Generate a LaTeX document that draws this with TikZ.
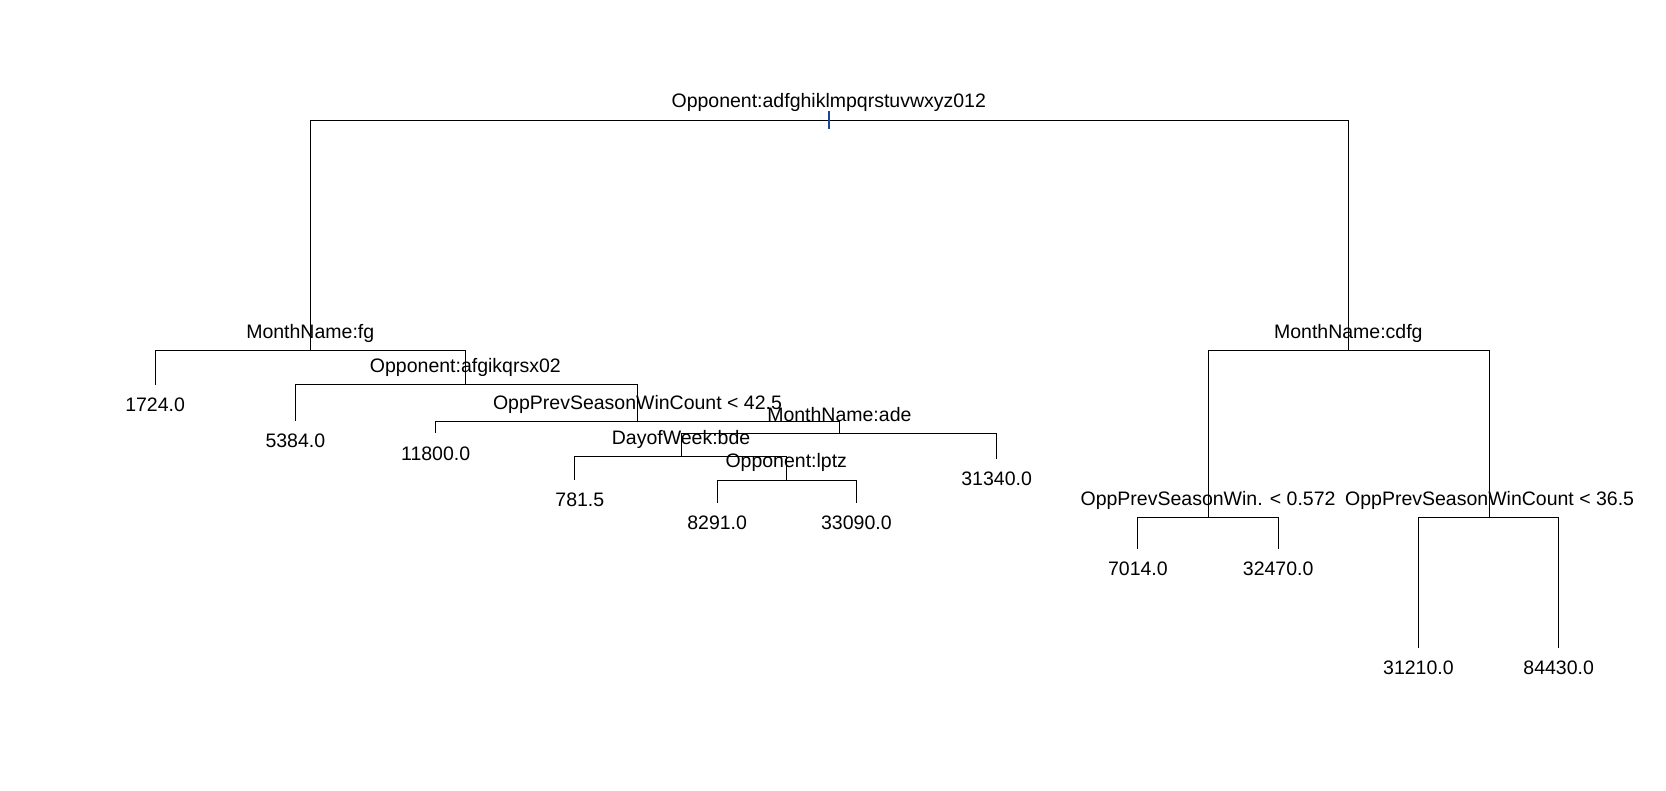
\documentclass[tikz,border=0pt]{standalone}
\usepackage{fontspec}
\setmainfont{Liberation Sans}
\definecolor{tickblue}{RGB}{30,70,150}
\begin{document}
\begin{tikzpicture}[x=0.53125pt,y=-0.53125pt,
  edge/.style={draw=black,line width=0.5pt},
  split/.style={anchor=base,inner sep=0pt,font=\fontsize{9.75pt}{11pt}\selectfont},
  leaf/.style={anchor=base,inner sep=0pt,font=\fontsize{9.75pt}{11pt}\selectfont}]
\useasboundingbox[fill=white] (0,0) rectangle (1568,744);
% internal nodes (bar positions)
\coordinate (n1) at (780,113);
\coordinate (n2) at (292,330);
\coordinate (n3) at (438,362);
\coordinate (n4) at (600,397);
\coordinate (n5) at (790,408);
\coordinate (n6) at (641,430);
\coordinate (n7) at (740,452);
\coordinate (n8) at (1269,330);
\coordinate (n9) at (1137,487);
\coordinate (n10) at (1402,487);
% leaves (line ends)
\coordinate (l1) at (146,362);
\coordinate (l2) at (278,396);
\coordinate (l3) at (410,408);
\coordinate (l4) at (938,432);
\coordinate (l5) at (541,452);
\coordinate (l6) at (675,473);
\coordinate (l7) at (806,473);
\coordinate (l8) at (1071,517);
\coordinate (l9) at (1203,517);
\coordinate (l10) at (1335,610);
\coordinate (l11) at (1467,610);
% connectors
\draw[edge] (n1) -| (n2); \draw[edge] (n1) -| (n8);
\draw[edge] (n2) -| (l1); \draw[edge] (n2) -| (n3);
\draw[edge] (n3) -| (l2); \draw[edge] (n3) -| (n4);
\draw[edge] (n4) -| (l3); \draw[edge] (n4) -| (n5);
\draw[edge] (n5) -| (n6); \draw[edge] (n5) -| (l4);
\draw[edge] (n6) -| (l5); \draw[edge] (n6) -| (n7);
\draw[edge] (n7) -| (l6); \draw[edge] (n7) -| (l7);
\draw[edge] (n8) -| (n9); \draw[edge] (n8) -| (n10);
\draw[edge] (n9) -| (l8); \draw[edge] (n9) -| (l9);
\draw[edge] (n10) -| (l10); \draw[edge] (n10) -| (l11);
% root tick
\coordinate (tk1) at (780,104.6);
\coordinate (tk2) at (780,121.6);
\draw[draw=tickblue,line width=0.75pt] (tk1) -- (tk2);
% split labels
\node[split] (t1) at ([yshift=11.6*0.53125pt]n1) {Opponent:adfghiklmpqrstuvwxyz012};
\node[split] (t2) at ([yshift=11.6*0.53125pt]n2) {MonthName:fg};
\node[split] (t3) at ([yshift=11.6*0.53125pt]n3) {Opponent:afgikqrsx02};
\node[split] (t4) at ([yshift=11.6*0.53125pt]n4) {OppPrevSeasonWinCount < 42.5};
\node[split] (t5) at ([yshift=11.6*0.53125pt]n5) {MonthName:ade};
\node[split] (t6) at ([yshift=11.6*0.53125pt]n6) {DayofWeek:bde};
\node[split] (t7) at ([yshift=11.6*0.53125pt]n7) {Opponent:lptz};
\node[split] (t8) at ([yshift=11.6*0.53125pt]n8) {MonthName:cdfg};
\node[split] (t9) at ([yshift=11.6*0.53125pt]n9) {OppPrevSeasonWin. < 0.572};
\node[split] (t10) at ([yshift=11.6*0.53125pt]n10) {OppPrevSeasonWinCount < 36.5};
% leaf labels
\node[leaf] (v1) at ([yshift=-25*0.53125pt]l1) {1724.0};
\node[leaf] (v2) at ([yshift=-25*0.53125pt]l2) {5384.0};
\node[leaf] (v3) at ([yshift=-25*0.53125pt]l3) {11800.0};
\node[leaf] (v4) at ([yshift=-25*0.53125pt]l4) {31340.0};
\node[leaf] (v5) at ([yshift=-25*0.53125pt,xshift=2.5pt]l5) {781.5};
\node[leaf] (v6) at ([yshift=-25*0.53125pt]l6) {8291.0};
\node[leaf] (v7) at ([yshift=-25*0.53125pt]l7) {33090.0};
\node[leaf] (v8) at ([yshift=-25*0.53125pt]l8) {7014.0};
\node[leaf] (v9) at ([yshift=-25*0.53125pt]l9) {32470.0};
\node[leaf] (v10) at ([yshift=-25*0.53125pt]l10) {31210.0};
\node[leaf] (v11) at ([yshift=-25*0.53125pt]l11) {84430.0};
\end{tikzpicture}
\end{document}
